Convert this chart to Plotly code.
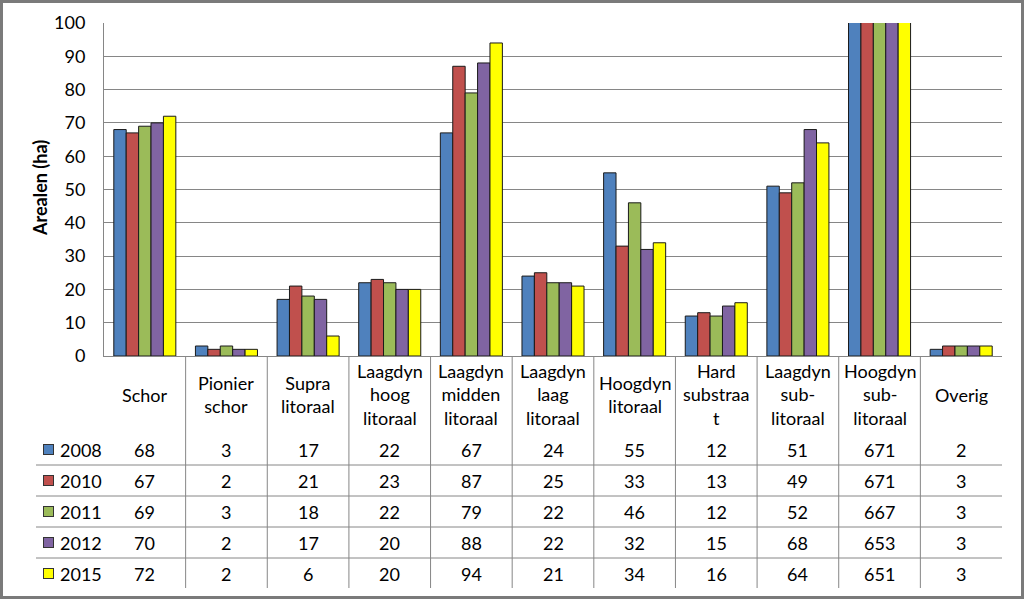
import plotly.graph_objects as go

categories = ["Schor", "Pionier schor", "Supra litoraal", "Laagdyn hoog litoraal",
              "Laagdyn midden litoraal", "Laagdyn laag litoraal", "Hoogdyn litoraal",
              "Hard substraat", "Laagdyn sub-litoraal", "Hoogdyn sub-litoraal", "Overig"]
header_labels = ["Schor", "Pionier<br>schor", "Supra<br>litoraal", "Laagdyn<br>hoog<br>litoraal",
                 "Laagdyn<br>midden<br>litoraal", "Laagdyn<br>laag<br>litoraal", "Hoogdyn<br>litoraal",
                 "Hard<br>substraa<br>t", "Laagdyn<br>sub-<br>litoraal", "Hoogdyn<br>sub-<br>litoraal", "Overig"]
years = ["2008", "2010", "2011", "2012", "2015"]
v2008 = [68, 3, 17, 22, 67, 24, 55, 12, 51, 671, 2]
v2010 = [67, 2, 21, 23, 87, 25, 33, 13, 49, 671, 3]
v2011 = [69, 3, 18, 22, 79, 22, 46, 12, 52, 667, 3]
v2012 = [70, 2, 17, 20, 88, 22, 32, 15, 68, 653, 3]
v2015 = [72, 2, 6, 20, 94, 21, 34, 16, 64, 651, 3]
series = [v2008, v2010, v2011, v2012, v2015]
colors = ["#4F81BD", "#C0504D", "#9BBB59", "#8064A2", "#FFFF00"]
y_title = "Arealen (ha)"

W, H = 1024, 599
ML, MR, MT, MB = 104, 22, 23, 243
PW, PH = W - ML - MR, H - MT - MB
FONT = "Lato"
FS = 18
GRID = "#868686"

def py(px):  # pixel row -> paper y
    return (H - MB - px) / PH

def pxx(px):  # pixel col -> paper x
    return (px - ML) / PW

fig = go.Figure()
for yr, vals, c in zip(years, series, colors):
    fig.add_trace(go.Bar(x=list(range(len(categories))), y=vals, name=yr,
                         marker=dict(color=c, line=dict(color="#1a1a1a", width=1)),
                         showlegend=False))

shapes = []
annotations = []
n = len(categories)
# table vertical lines at category boundaries
for i in range(1, n):
    shapes.append(dict(type="line", xref="x", yref="paper", x0=i - 0.5, x1=i - 0.5,
                       y0=0, y1=py(588), line=dict(color=GRID, width=1)))
# table horizontal lines
row_h = 31
row_top = 434
for k in range(1, len(years)):
    yy = row_top + k * row_h
    shapes.append(dict(type="line", xref="paper", yref="paper", x0=pxx(36), x1=1,
                       y0=py(yy), y1=py(yy), line=dict(color=GRID, width=1)))
# outer border
shapes.append(dict(type="rect", xref="paper", yref="paper",
                   x0=pxx(1.5), x1=pxx(W - 1.5), y0=py(H - 1.5), y1=py(1.5),
                   line=dict(color="#7a7a7a", width=3)))

# header labels
for i, lab in enumerate(header_labels):
    annotations.append(dict(x=i, y=py(395), xref="x", yref="paper", text=lab,
                            showarrow=False, align="center", yanchor="middle",
                            font=dict(family=FONT, size=FS, color="#000")))
# rows
for k, (yr, vals, c) in enumerate(zip(years, series, colors)):
    yc = py(row_top + k * row_h + row_h / 2)
    annotations.append(dict(x=pxx(48.5), y=yc, xref="paper", yref="paper", text="",
                            showarrow=False, width=9, height=9, bgcolor=c,
                            bordercolor="#333", borderwidth=1, borderpad=0,
                            xanchor="center", yanchor="middle"))
    annotations.append(dict(x=pxx(58), y=yc, xref="paper", yref="paper", text=yr,
                            showarrow=False, xanchor="left", yanchor="middle",
                            font=dict(family=FONT, size=FS, color="#000")))
    for i, v in enumerate(vals):
        annotations.append(dict(x=i, y=yc, xref="x", yref="paper", text=str(v),
                                showarrow=False, xanchor="center", yanchor="middle",
                                font=dict(family=FONT, size=FS, color="#000")))
# y title
annotations.append(dict(x=pxx(40), y=py(188), xref="paper", yref="paper", text="<b>" + y_title + "</b>",
                        textangle=-90, showarrow=False, xanchor="center", yanchor="middle",
                        font=dict(family=FONT, size=18, color="#000")))

fig.update_layout(
    width=W, height=H, margin=dict(l=ML, r=MR, t=MT, b=MB, pad=0),
    paper_bgcolor="white", plot_bgcolor="white",
    barmode="group", bargap=0.24, bargroupgap=0,
    shapes=shapes, annotations=annotations,
    font=dict(family=FONT, size=FS, color="#000"),
)
fig.update_xaxes(range=[-0.5, n - 0.5], showticklabels=False, showgrid=False,
                 showline=True, linecolor=GRID, linewidth=1, zeroline=False, ticks="")
fig.update_yaxes(range=[0, 100], dtick=10, showgrid=True, gridcolor=GRID, gridwidth=1,
                 showline=True, linecolor=GRID, linewidth=1, zeroline=False, ticks="",
                 ticklabelstandoff=14, tickfont=dict(family=FONT, size=FS, color="#000"))

fig.write_html("out.html", config={"displayModeBar": False},
               post_script="document.body.style.margin='0';document.body.style.overflow='hidden';")
